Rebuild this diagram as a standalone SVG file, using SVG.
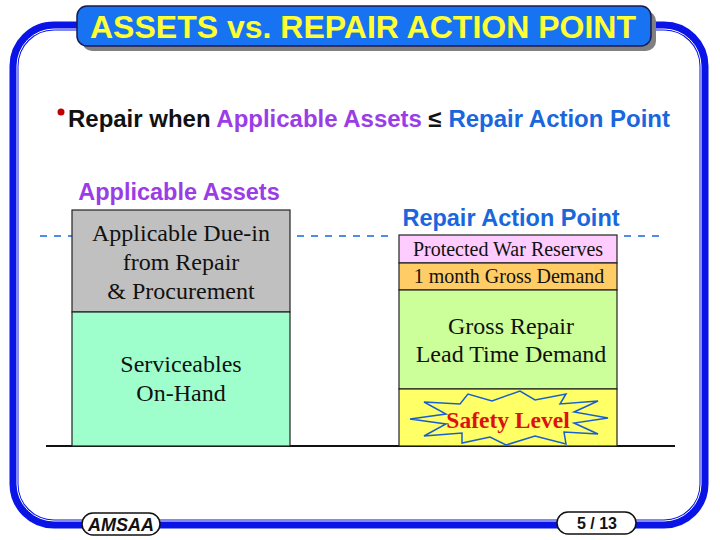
<svg xmlns="http://www.w3.org/2000/svg" width="720" height="540" viewBox="0 0 720 540">
<style>
.hd{font-family:"Liberation Sans",Arial,sans-serif;font-weight:bold}
.tm{font-family:"Liberation Serif","Times New Roman",serif;fill:#111;text-anchor:middle}
.box{stroke:#222;stroke-width:1.2}
.dash{stroke:#1a66dd;stroke-width:1.5;stroke-dasharray:7,7;fill:none}
.pill{fill:#fff;stroke:#111;stroke-width:1.5}
</style>
<rect width="720" height="540" fill="#fff"/>
<g id="frame">
<rect x="14" y="26" width="690" height="498" rx="40" fill="none" stroke="#0a14e6" stroke-width="9"/>
<rect x="17" y="29" width="684" height="492" rx="37" fill="none" stroke="#fff" stroke-width="1"/>
</g>
<g id="title">
<rect x="82" y="11" width="574" height="40" rx="10" fill="#808080"/>
<rect x="77" y="6" width="574" height="40" rx="10" fill="#1773f2" stroke="#1a1a50" stroke-width="1.5"/>
<text x="363" y="38" class="hd" font-size="31" fill="#ffff33" text-anchor="middle" textLength="546" lengthAdjust="spacingAndGlyphs">ASSETS vs. REPAIR ACTION POINT</text>
</g>
<g id="bullet">
<circle cx="61" cy="112" r="3.5" fill="#c00000"/>
<text x="68" y="127" class="hd" font-size="23.5" textLength="602" lengthAdjust="spacingAndGlyphs"><tspan fill="#111">Repair when </tspan><tspan fill="#9a3de6">Applicable Assets</tspan><tspan fill="#111"> ≤ </tspan><tspan fill="#1a66dd">Repair Action Point</tspan></text>
</g>
<g id="connectors">
<line x1="40" y1="236" x2="72" y2="236" class="dash"/>
<line x1="297" y1="236" x2="395" y2="236" class="dash"/>
<line x1="624" y1="236" x2="660" y2="236" class="dash"/>
<line x1="46" y1="446" x2="675" y2="446" stroke="#111" stroke-width="2"/>
</g>
<g id="applicable-assets">
<text x="179" y="200" class="hd" font-size="23.5" fill="#9a3de6" text-anchor="middle">Applicable Assets</text>
</g>
<g id="due-in">
<rect x="72" y="210" width="218" height="102" fill="#c0c0c0" class="box"/>
<text class="tm" font-size="24"><tspan x="181" y="241">Applicable Due-in</tspan><tspan x="181" y="270">from Repair</tspan><tspan x="181" y="299">&amp; Procurement</tspan></text>
</g>
<g id="serviceables">
<rect x="72" y="312" width="218" height="134" fill="#9effcc" class="box"/>
<text class="tm" font-size="24"><tspan x="181" y="372">Serviceables</tspan><tspan x="181" y="401">On-Hand</tspan></text>
</g>
<g id="rap-label">
<text x="511" y="226" class="hd" font-size="23.5" fill="#1a66dd" text-anchor="middle">Repair Action Point</text>
</g>
<g id="war-reserves">
<rect x="399" y="235" width="218" height="28" fill="#ffccff" class="box"/>
<text x="508" y="256" class="tm" font-size="20">Protected War Reserves</text>
</g>
<g id="gross-demand">
<rect x="399" y="263" width="218" height="27" fill="#ffcc66" class="box"/>
<text x="509" y="283" class="tm" font-size="20">1 month Gross Demand</text>
</g>
<g id="lead-time">
<rect x="399" y="290" width="218" height="99" fill="#ccff99" class="box"/>
<text class="tm" font-size="24"><tspan x="511" y="334">Gross Repair</tspan><tspan x="511" y="362">Lead Time Demand</tspan></text>
</g>
<g id="safety-level">
<rect x="399" y="389" width="218" height="57" fill="#ffff66" class="box"/>
<polygon points="410,419 446,414 424,402 460,404 468,394 492,401 520,391 535,400 566,394 560,404 598,401 574,412 608,418 574,423 598,434 564,432 566,444 535,436 506,445 490,437 462,443 462,433 424,436 446,424" fill="none" stroke="#1a5fd0" stroke-width="1.5"/>
<text x="508" y="428" class="tm" font-size="23.5" font-weight="bold" style="fill:#dd1111">Safety Level</text>
</g>
<g id="footer">
<rect x="82" y="513" width="78" height="22" rx="11" class="pill"/>
<text x="121" y="531" class="hd" font-size="18" font-style="italic" fill="#111" text-anchor="middle">AMSAA</text>
<rect x="557" y="512" width="79" height="22" rx="11" class="pill"/>
<text x="597" y="529" class="hd" font-size="16" fill="#111" text-anchor="middle">5 / 13</text>
</g>
</svg>
